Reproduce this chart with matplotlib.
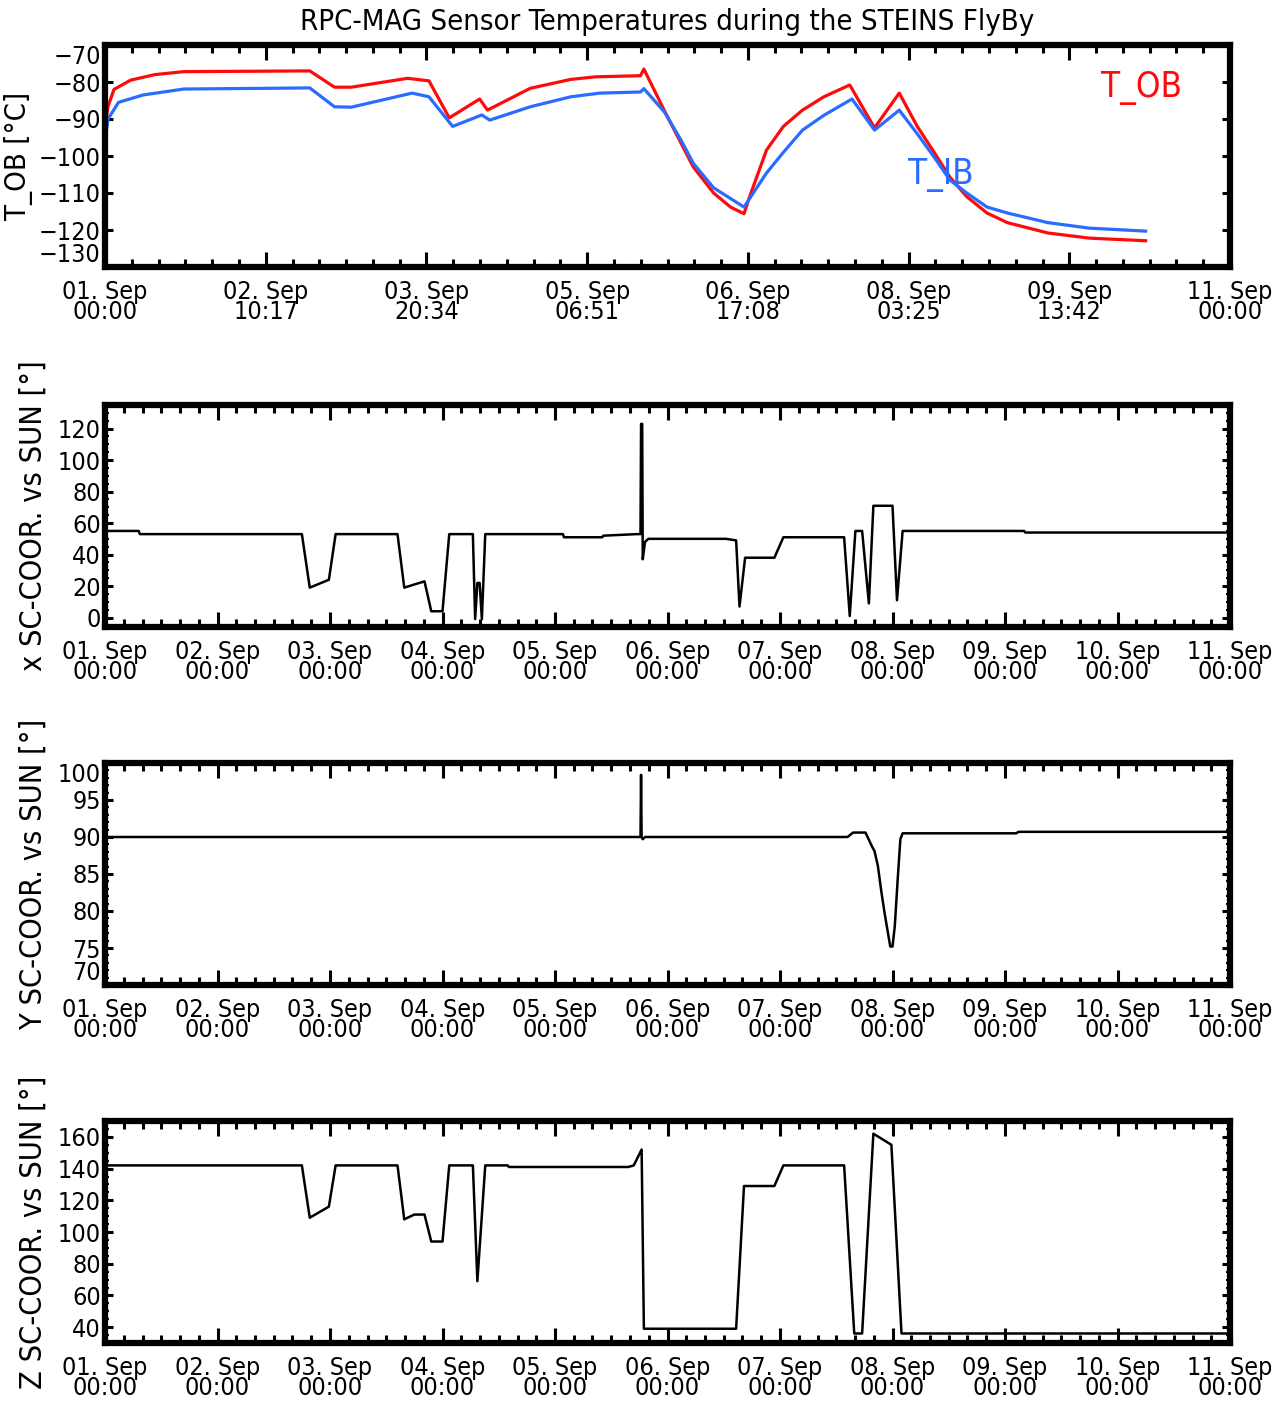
import matplotlib
matplotlib.use("Agg")
import matplotlib.pyplot as plt
from matplotlib.ticker import FixedLocator, MultipleLocator
import numpy as np

plt.rcParams['font.family'] = ['DejaVu Sans']
plt.rcParams['font.stretch'] = 'condensed'

# time in days since 01. Sep 00:00
t_ob_days = [0.0, 0.027, 0.08, 0.228, 0.444, 0.70, 1.82, 2.04, 2.19, 2.69, 2.88, 3.06, 3.33, 3.40,
             3.78, 4.14, 4.36, 4.76, 4.79, 4.97, 5.12, 5.23, 5.41, 5.56, 5.68, 5.73, 5.88, 6.03,
             6.20, 6.39, 6.62, 6.84, 7.06, 7.22, 7.37, 7.51, 7.66, 7.84, 8.02, 8.38, 8.75, 9.25]
t_ob_vals = [-92, -86.6, -82, -79.5, -78, -77.2, -77, -81.4, -81.4, -79, -79.7, -89.7, -84.6, -87.6,
             -81.7, -79.3, -78.6, -78.3, -76.5, -87.6, -96.5, -103, -110, -113.8, -115.6, -111, -98.4, -92,
             -87.6, -84, -80.8, -92.4, -83, -92, -99, -105.7, -111, -115.4, -118, -120.8, -122.2, -122.9]

t_ib_days = [0.0, 0.027, 0.12, 0.34, 0.70, 1.82, 2.04, 2.19, 2.73, 2.88, 3.09, 3.35, 3.42,
             3.78, 4.14, 4.40, 4.76, 4.79, 4.97, 5.12, 5.23, 5.41, 5.68, 5.73, 5.88, 6.03,
             6.20, 6.39, 6.64, 6.84, 7.06, 7.22, 7.37, 7.51, 7.66, 7.84, 8.02, 8.38, 8.75, 9.25]
t_ib_vals = [-95.7, -90, -85.5, -83.5, -81.9, -81.6, -86.7, -86.8, -83, -84, -92, -88.9, -90.3,
             -86.7, -84, -83, -82.7, -81.8, -88, -95.7, -102, -108.6, -113.8, -111.5, -104.6, -99,
             -93, -89, -84.6, -93, -87.6, -94, -100.3, -106.5, -110, -113.8, -115.4, -118, -119.5, -120.3]

x_days = [0.0, 0.3, 0.31, 1.75, 1.82, 1.99, 2.05, 2.6, 2.66, 2.84, 2.9, 3.0, 3.06, 3.27, 3.29,
          3.31, 3.33, 3.35, 3.38, 4.07, 4.08, 4.42, 4.43, 4.73, 4.76, 4.765, 4.775, 4.78, 4.8,
          4.83, 5.52, 5.61, 5.64, 5.69, 5.95, 6.03, 6.57, 6.62, 6.67, 6.73, 6.79, 6.83, 7.0,
          7.04, 7.09, 8.17, 8.18, 10.0]
x_vals = [55, 55, 53, 53, 19, 24, 53, 53, 19, 23, 4, 4, 53, 53, -1,
          22, 22, -1, 53, 53, 51, 51, 52, 53, 53, 123, 123, 37, 48,
          50, 50, 49, 7, 38, 38, 51, 51, 1, 55, 55, 9, 71, 71,
          11, 55, 55, 54, 54]

y_days = [0.0, 4.76, 4.765, 4.77, 4.78, 4.8, 6.6, 6.65, 6.76, 6.815, 6.84, 6.87, 6.9, 6.93,
          6.96, 6.98, 7.0, 7.02, 7.05, 7.07, 7.09, 8.1, 8.12, 10.0]
y_vals = [90, 90, 98.4, 90, 89.7, 90, 90, 90.6, 90.6, 88.8, 88.1, 86.1, 82.7, 79.7,
          77, 75.2, 75.2, 77.9, 85.2, 89.7, 90.5, 90.5, 90.7, 90.7]

z_days = [0.0, 1.75, 1.82, 1.99, 2.05, 2.6, 2.66, 2.75, 2.84, 2.9, 3.0, 3.06, 3.27, 3.31,
          3.38, 3.58, 3.59, 4.65, 4.7, 4.77, 4.79, 5.61, 5.68, 5.95, 6.03, 6.57, 6.66, 6.73,
          6.83, 6.99, 7.08, 10.0]
z_vals = [142, 142, 109, 116, 142, 142, 108, 111, 111, 94, 94, 142, 142, 69,
          142, 142, 141, 141, 142, 152, 39, 39, 129, 129, 142, 142, 36, 36,
          162, 155, 36, 36]

temp_tick_labels = ['01. Sep\n00:00', '02. Sep\n10:17', '03. Sep\n20:34', '05. Sep\n06:51',
                    '06. Sep\n17:08', '08. Sep\n03:25', '09. Sep\n13:42', '11. Sep\n00:00']
day_tick_labels = ['%02d. Sep\n00:00' % d for d in range(1, 12)]

fig = plt.figure(figsize=(12.81, 14.05), dpi=100)
L, W, H = 105 / 1281, 1125 / 1281, 222 / 1405
bottoms = [1 - 267 / 1405, 1 - 627 / 1405, 1 - 985 / 1405, 1 - 1343 / 1405]
axes = [fig.add_axes([L, b, W, H]) for b in bottoms]


def style(ax, xticks, xlabels, xminor, yticks, yminor):
    ax.set_xlim(0, 10)
    ax.xaxis.set_major_locator(FixedLocator(xticks))
    ax.set_xticklabels(xlabels, linespacing=0.8)
    ax.xaxis.set_minor_locator(MultipleLocator(xminor))
    ax.yaxis.set_major_locator(FixedLocator(yticks))
    if yminor:
        ax.yaxis.set_minor_locator(MultipleLocator(yminor))
    for s in ax.spines.values():
        s.set_linewidth(4.5)
    ax.tick_params(which='both', direction='in', top=True, right=True, colors='black',
                   labelsize=18)
    ax.tick_params(axis='x', which='major', length=11, width=2.2, pad=9)
    ax.tick_params(axis='x', which='minor', length=5.5, width=2.2)
    ax.tick_params(axis='y', which='major', length=6, width=2.2, pad=3)
    ax.tick_params(axis='y', which='minor', length=3, width=1.5)


ax = axes[0]
ax.plot(t_ob_days, t_ob_vals, color='#ff0a0a', lw=2.3)
ax.plot(t_ib_days, t_ib_vals, color='#2a6cff', lw=2.3)
ax.set_ylim(-130, -70)
style(ax, np.linspace(0, 10, 8), temp_tick_labels, 10 / 7 / 6, range(-130, -69, 10), None)
ax.text(1101, 1405 - 88, 'T_OB', color='#ff0a0a', fontsize=25, transform=None, va='center')
ax.text(908, 1405 - 175, 'T_IB', color='#2a6cff', fontsize=25, transform=None, va='center')
ax.set_ylabel('T_OB [°C]', fontsize=21)
ax.yaxis.set_label_coords(-0.064, 0.5)

ax = axes[1]
ax.plot(x_days, x_vals, color='black', lw=1.8)
ax.set_ylim(-6, 135)
style(ax, range(11), day_tick_labels, 1 / 6, range(0, 121, 20), 5)
ax.set_ylabel('x SC-COOR. vs SUN [°]', fontsize=22)
ax.yaxis.set_label_coords(-0.051, 0.5)

ax = axes[2]
ax.plot(y_days, y_vals, color='black', lw=1.8)
ax.set_ylim(70, 100)
style(ax, range(11), day_tick_labels, 1 / 6, range(70, 101, 5), 1)
ax.set_ylabel('Y SC-COOR. vs SUN [°]', fontsize=22)
ax.yaxis.set_label_coords(-0.051, 0.5)

ax = axes[3]
ax.plot(z_days, z_vals, color='black', lw=1.8)
ax.set_ylim(30, 170)
style(ax, range(11), day_tick_labels, 1 / 6, range(40, 161, 20), 5)
ax.set_ylabel('Z SC-COOR. vs SUN [°]', fontsize=22)
ax.yaxis.set_label_coords(-0.051, 0.5)

# endpoint labels pulled inward like the original
for ax in (axes[0], axes[2]):
    labs = ax.get_yticklabels()
    labs[0].set_va('bottom')
    labs[-1].set_va('top')

fig.text(0.521, 1 - 22 / 1405, 'RPC-MAG Sensor Temperatures during the STEINS FlyBy',
         ha='center', va='center', fontsize=21)

fig.savefig('out.png', dpi=100, facecolor='white')
